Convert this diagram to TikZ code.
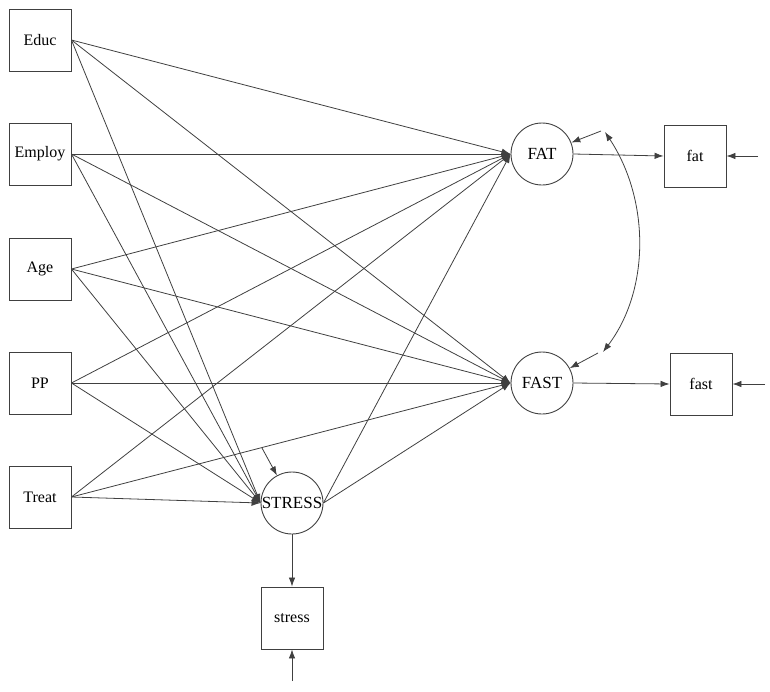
\documentclass[tikz,border=0pt]{standalone}
\usepackage{fontspec}
\setmainfont{Liberation Serif}
\usetikzlibrary{arrows.meta}
\begin{document}
\begin{tikzpicture}[x=1pt,y=-1pt,
  box/.style={draw=black!75, line width=0.9pt, minimum width=62pt, minimum height=62pt, inner sep=0pt, font=\fontsize{16}{18}\selectfont},
  lat/.style={draw=black!75, line width=0.9pt, circle, minimum size=62pt, inner sep=0pt, font=\fontsize{17}{19}\selectfont},
  arr/.style={draw=black!75, line width=0.8pt, -{Latex[length=9pt,width=6.5pt]}},
  arrb/.style={draw=black!75, line width=0.8pt, {Latex[length=9pt,width=6.5pt]}-{Latex[length=9pt,width=6.5pt]}}]
\useasboundingbox (0,0) rectangle (770,691);
% exogenous
\node[box] (Educ) at (40,40) {Educ};
\node[box] (Employ) at (40,154) {Employ};
\node[box] (Age) at (40,269) {Age};
\node[box] (PP) at (40,383) {PP};
\node[box] (Treat) at (40,497) {Treat};
% latent
\node[lat] (FAT) at (542,154) {FAT};
\node[lat] (FAST) at (542,383) {FAST};
\node[lat] (STRESS) at (292,503) {STRESS};
% indicators
\node[box] (fat) at (695,156) {fat};
\node[box] (fast) at (701,384) {fast};
\node[box] (stress) at (292,618) {stress};
% error coordinates
\coordinate (efat) at (758,156);
\coordinate (efast) at (765,384);
\coordinate (estress) at (292,681);
\coordinate (rs) at (262,448);
\coordinate (r1) at (601,131);
\coordinate (r2) at (598,353);
\coordinate (cv1) at (605,132);
\coordinate (cv2) at (603,352);
% paths
\foreach \s in {Educ,Employ,Age,PP,Treat}{
  \draw[arr] (\s.east) -- (FAT.west);
  \draw[arr] (\s.east) -- (FAST.west);
  \draw[arr] (\s.east) -- (STRESS.west);
}
\draw[arr] (STRESS.east) -- (FAT.west);
\draw[arr] (STRESS.east) -- (FAST.west);
\draw[arr] (FAT.east) -- (fat.west);
\draw[arr] (FAST.east) -- (fast.west);
\draw[arr] (STRESS.south) -- (stress.north);
\draw[arr] (efat) -- (fat.east);
\draw[arr] (efast) -- (fast.east);
\draw[arr] (estress) -- (stress.south);
\draw[arr] (rs) -- (STRESS);
\draw[arr] (r1) -- (FAT);
\draw[arr] (r2) -- (FAST);
\draw[arrb] (cv1) .. controls (650,200) and (650,290) .. (cv2);
\end{tikzpicture}
\end{document}
